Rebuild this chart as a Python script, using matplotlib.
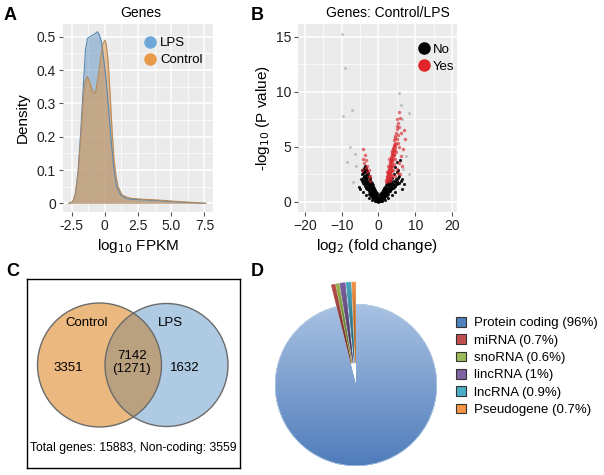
import numpy as np
import matplotlib.pyplot as plt
from matplotlib.patches import Circle, Patch
from matplotlib.lines import Line2D
from matplotlib.colors import LinearSegmentedColormap

plt.rcParams['font.family'] = ['Liberation Sans', 'DejaVu Sans']

W, H = 604, 475

# ---- A: density of log10 FPKM ----
lps_x = [-2.7, -2.4, -2.2, -2.0, -1.8, -1.6, -1.45, -1.3, -1.1, -0.9, -0.7, -0.55, -0.4,
         -0.25, -0.1, 0.1, 0.3, 0.5, 0.7, 0.9, 1.2, 1.6, 2.0, 3.0, 4.0, 5.0, 6.0, 7.0, 7.6]
lps_y = [0, 0.005, 0.03, 0.10, 0.22, 0.36, 0.46, 0.495, 0.50, 0.505, 0.51, 0.515, 0.505,
         0.485, 0.44, 0.37, 0.28, 0.18, 0.10, 0.05, 0.025, 0.015, 0.012, 0.01, 0.008, 0.005,
         0.003, 0.001, 0]
ctl_x = [-2.7, -2.4, -2.2, -2.0, -1.8, -1.6, -1.45, -1.3, -1.1, -0.9, -0.7, -0.5, -0.3,
         -0.15, 0.0, 0.1, 0.25, 0.4, 0.55, 0.7, 0.85, 1.0, 1.3, 1.7, 2.0, 3.0, 4.0, 5.0,
         6.0, 7.0, 7.6]
ctl_y = [0, 0.005, 0.03, 0.09, 0.20, 0.32, 0.37, 0.38, 0.36, 0.335, 0.33, 0.38, 0.44,
         0.475, 0.49, 0.48, 0.43, 0.33, 0.22, 0.13, 0.08, 0.05, 0.025, 0.018, 0.015, 0.012,
         0.01, 0.007, 0.004, 0.002, 0]

# ---- B: volcano (log2 fold change, -log10 p) ----
no_pts = [(0, 0.02), (0.2, 0.05), (-0.2, 0.05), (0.4, 0.1), (-0.4, 0.1), (0.1, 0.15), (-0.1, 0.15),
          (0.6, 0.2), (-0.6, 0.2), (0.3, 0.25), (-0.3, 0.25), (0.8, 0.3), (-0.8, 0.3), (1.0, 0.4),
          (-1.0, 0.4), (0.5, 0.4), (-0.5, 0.4), (1.3, 0.5), (-1.2, 0.5), (0.7, 0.55), (-0.6, 0.55),
          (1.6, 0.6), (-1.5, 0.6), (1.0, 0.7), (-0.9, 0.7), (1.9, 0.7), (-1.8, 0.7), (2.3, 0.8),
          (-2.1, 0.8), (1.3, 0.85), (-1.1, 0.85), (0.9, 0.95), (-0.8, 0.95), (2.6, 0.9), (-2.4, 0.9),
          (1.7, 1.0), (-1.4, 1.0), (3.0, 1.0), (-2.7, 1.0), (1.2, 1.1), (-1.0, 1.1), (2.1, 1.15),
          (-1.7, 1.15), (3.4, 1.15), (-3.0, 1.15), (1.5, 1.25), (-1.2, 1.25), (2.5, 1.3), (-2.0, 1.3),
          (3.9, 1.3), (-3.3, 1.3), (1.8, 1.4), (-1.4, 1.4), (2.9, 1.45), (-2.3, 1.45), (4.4, 1.45),
          (-3.6, 1.45), (2.1, 1.55), (-1.6, 1.55), (3.3, 1.6), (-2.6, 1.6), (4.9, 1.6), (-3.9, 1.6),
          (2.4, 1.7), (-1.8, 1.7), (3.7, 1.75), (-2.9, 1.75), (5.5, 1.75), (-4.2, 1.75), (2.7, 1.85),
          (-2.0, 1.85), (4.2, 1.9), (-3.2, 1.9), (6.1, 1.9), (-4.5, 1.9), (3.0, 2.0), (-2.2, 2.0),
          (-3.5, 2.05), (4.7, 2.05), (-4.8, 2.1), (-2.4, 2.2), (5.2, 2.2), (-3.7, 2.25), (-2.6, 2.4),
          (-4.0, 2.4), (5.7, 2.4), (-2.8, 2.6), (-4.2, 2.65), (-3.0, 2.85), (-4.4, 2.9), (-3.3, 3.1),
          (6.4, 2.1), (7.0, 1.6), (-5.3, 1.4), (-5.0, 1.2), (6.5, 1.2), (4.6, 0.9), (-4.1, 0.9),
          (3.6, 0.6), (-3.3, 0.6), (2.6, 0.35), (-2.5, 0.35), (1.8, 0.2), (-1.7, 0.2), (1.0, 0.1),
          (-1.0, 0.1), (0.0, 0.3), (0.3, 0.6), (-0.3, 0.6), (0.6, 0.85), (-0.5, 0.85),
          (0.15, 0.08), (-0.15, 0.08), (0.5, 0.15), (-0.5, 0.15), (0.8, 0.12), (-0.8, 0.12),
          (1.2, 0.25), (-1.2, 0.25), (1.5, 0.35), (-1.4, 0.35), (0.2, 0.35), (-0.15, 0.45),
          (0.9, 0.5), (-0.9, 0.5), (1.6, 0.45), (-1.7, 0.45), (2.0, 0.55), (-1.9, 0.55),
          (1.2, 0.65), (-1.2, 0.65), (2.2, 0.65), (-2.2, 0.62), (0.5, 0.7), (1.5, 0.8),
          (-1.5, 0.8), (2.7, 0.75), (-2.6, 0.75), (2.0, 0.9), (-1.9, 0.92), (1.1, 1.0),
          (-1.1, 1.0), (2.4, 1.05), (-2.2, 1.05), (3.2, 1.1), (1.5, 1.15), (-1.4, 1.2),
          (2.8, 1.2), (-2.5, 1.2), (3.6, 1.25), (2.0, 1.3), (-1.7, 1.35), (3.3, 1.35),
          (-2.8, 1.35), (4.1, 1.4), (2.5, 1.5), (-2.0, 1.5), (3.6, 1.5), (-3.2, 1.5), (4.6, 1.55),
          (2.8, 1.6), (-2.3, 1.65), (4.0, 1.65), (-3.4, 1.7), (5.1, 1.7), (3.2, 1.8), (-2.5, 1.8),
          (4.5, 1.8), (-3.7, 1.85), (3.5, 1.95), (-2.7, 1.95), (5.0, 1.95), (-3.9, 2.0),
          (-3.0, 2.15), (-4.2, 2.2), (-2.9, 2.3), (-3.4, 2.45), (-4.5, 2.5), (-3.1, 2.5),
          (-3.6, 2.7), (-3.9, 2.8), (-3.5, 2.95), (-4.0, 3.1), (-3.7, 3.3), (3.8, 2.2), (4.2, 2.5),
          (4.9, 2.7), (5.4, 2.9), (4.4, 3.2), (5.0, 3.6), (5.8, 3.8)]
no_far_pts = [(-7.0, 1.8), (8.3, 2.5), (-6.0, 3.3), (6.8, 3.0),
              (-9.9, 15.3), (-9.0, 12.2), (-7.2, 8.4), (-9.6, 7.8), (5.5, 9.9), (8.2, 8.1),
              (6.4, 7.5), (-7.8, 5.0), (-6.5, 4.4), (-8.5, 3.6), (7.5, 4.2), (6.0, 8.8)]
yes_pts = [(2.0, 1.85), (2.5, 1.9), (3.0, 1.95), (2.2, 2.1), (2.7, 2.15), (3.3, 2.2), (2.4, 2.35),
           (2.9, 2.4), (3.6, 2.45), (2.5, 2.6), (3.1, 2.65), (2.7, 2.85), (3.3, 2.9), (3.9, 2.95),
           (2.8, 3.1), (3.4, 3.15), (3.0, 3.35), (3.6, 3.4), (4.2, 3.45), (3.1, 3.6), (3.7, 3.65),
           (3.3, 3.85), (3.9, 3.9), (4.5, 3.95), (3.4, 4.1), (4.0, 4.15), (3.6, 4.35), (4.2, 4.4),
           (4.8, 4.5), (3.8, 4.6), (4.4, 4.7), (3.9, 4.9), (4.6, 5.0), (4.1, 5.2), (4.8, 5.3),
           (5.3, 5.4), (4.3, 5.6), (4.9, 5.7), (4.5, 6.0), (5.2, 6.1), (5.0, 6.6), (5.6, 6.8),
           (5.3, 7.2), (5.8, 7.6), (6.2, 6.3), (5.6, 5.0), (6.0, 4.2), (5.5, 3.5), (6.3, 3.3),
           (4.9, 3.0), (5.2, 2.6), (4.4, 2.4), (5.8, 2.5), (6.6, 4.8), (7.1, 5.7), (6.9, 6.5),
           (2.3, 2.7), (2.6, 3.3), (2.9, 3.9),
           (2.1, 2.0), (2.6, 2.05), (3.2, 2.1), (2.3, 2.25), (2.8, 2.3), (3.4, 2.35), (2.6, 2.5),
           (3.0, 2.55), (2.8, 2.75), (3.2, 2.8), (3.6, 2.85), (2.9, 3.0), (3.5, 3.05), (3.1, 3.25),
           (3.8, 3.3), (3.2, 3.5), (3.5, 3.7), (3.8, 3.8), (3.4, 4.0), (3.8, 4.25), (4.3, 4.3),
           (3.7, 4.5), (4.1, 4.6), (4.0, 4.8), (4.3, 5.1), (4.5, 5.4), (4.4, 5.8), (4.7, 6.3),
           (4.9, 6.9), (5.1, 7.5), (5.5, 8.2),
           (-2.2, 1.9), (-2.7, 2.3), (-3.1, 2.7), (-3.5, 3.1), (-3.9, 3.5), (-3.0, 3.3), (-2.5, 2.9),
           (-4.3, 3.9), (-3.6, 4.3), (-4.1, 4.8), (-3.3, 3.8), (-2.4, 2.4), (-4.6, 2.9)]
no_x = [p[0] for p in no_pts]
no_y = [p[1] for p in no_pts]
no_far_x = [p[0] for p in no_far_pts]
no_far_y = [p[1] for p in no_far_pts]
yes_x = [p[0] for p in yes_pts]
yes_y = [p[1] for p in yes_pts]

# ---- C: venn counts ----
only_ctl = 3351
both = 7142
both_nc = 1271
only_lps = 1632
total_genes = 15883
non_coding = 3559

# ---- D: gene types ----
pie_names = ['Protein coding', 'miRNA', 'snoRNA', 'lincRNA', 'lncRNA', 'Pseudogene']
pie_pct = [96, 0.7, 0.6, 1, 0.9, 0.7]
pie_colors = ['#4F81BD', '#C0504D', '#9BBB59', '#8064A2', '#4BACC6', '#F79646']


def px_axes(x0, y0, x1, y1):
    return fig.add_axes([x0 / W, 1 - y1 / H, (x1 - x0) / W, (y1 - y0) / H])


def gg_style(ax):
    ax.set_facecolor('#EBEBEB')
    for s in ax.spines.values():
        s.set_visible(False)
    ax.grid(True, which='major', color='white', lw=1.1)
    ax.grid(True, which='minor', color='white', lw=0.5)
    ax.set_axisbelow(True)
    ax.tick_params(which='major', length=3, width=0.8, color='#555', labelsize=10,
                   labelcolor='#222', pad=2)
    ax.tick_params(which='minor', length=0)


fig = plt.figure(figsize=(W / 100, H / 100), dpi=100)

# A
axA = px_axes(63, 24, 213, 212)
gg_style(axA)
axA.fill_between(lps_x, lps_y, color='#6a9cc4', alpha=0.55, lw=0)
axA.plot(lps_x, lps_y, color='#5a88b0', lw=0.8)
axA.fill_between(ctl_x, ctl_y, color='#d9924a', alpha=0.55, lw=0)
axA.plot(ctl_x, ctl_y, color='#b88a5a', lw=0.8)
axA.set_xlim(-3.14, 8.14)
axA.set_ylim(-0.026, 0.538)
axA.set_xticks([-2.5, 0, 2.5, 5, 7.5], ['-2.5', '0', '2.5', '5.0', '7.5'])
axA.set_xticks([-1.25, 1.25, 3.75, 6.25], minor=True)
axA.set_yticks([0, 0.1, 0.2, 0.3, 0.4, 0.5], ['0', '0.1', '0.2', '0.3', '0.4', '0.5'])
axA.set_yticks([0.05, 0.15, 0.25, 0.35, 0.45], minor=True)
axA.set_xlabel(r'log$_{10}$ FPKM', fontsize=11, labelpad=3)
axA.set_ylabel('Density', fontsize=11, labelpad=5)
hA = [Line2D([], [], ls='', marker='o', ms=8, color='#6fa8d8', label='LPS'),
      Line2D([], [], ls='', marker='o', ms=8, color='#e8994a', label='Control')]
axA.legend(handles=hA, loc='upper left', bbox_to_anchor=(0.53, 0.93), frameon=False,
           fontsize=9.5, handlelength=1.1, handletextpad=0.25, labelspacing=0.35,
           borderpad=0, borderaxespad=0)

# B
axB = px_axes(298, 24, 457, 212)
gg_style(axB)
axB.scatter(no_far_x, no_far_y, s=4, color='#888888', alpha=0.5, lw=0)
axB.scatter(no_x, no_y, s=5, color='black', alpha=0.9, lw=0)
axB.scatter(yes_x, yes_y, s=6, color='#d8262c', alpha=0.65, lw=0)
axB.set_xlim(-21.9, 21.36)
axB.set_ylim(-0.91, 16.18)
axB.set_xticks([-20, -10, 0, 10, 20])
axB.set_xticks([-15, -5, 5, 15], minor=True)
axB.set_yticks([0, 5, 10, 15])
axB.set_yticks([2.5, 7.5, 12.5], minor=True)
axB.set_xlabel(r'log$_2$ (fold change)', fontsize=11, labelpad=3)
axB.set_ylabel(r'-log$_{10}$ (P value)', fontsize=11, labelpad=3)
hB = [Line2D([], [], ls='', marker='o', ms=8, color='black', label='No'),
      Line2D([], [], ls='', marker='o', ms=8, color='#e0242a', label='Yes')]
axB.legend(handles=hB, loc='upper left', bbox_to_anchor=(0.746, 0.895), frameon=False,
           fontsize=9.5, handlelength=1.1, handletextpad=0.15, labelspacing=0.35,
           borderpad=0, borderaxespad=0)

fig.text(141 / W, 1 - 13 / H, 'Genes', ha='center', va='center', fontsize=10)
fig.text(388 / W, 1 - 13 / H, 'Genes: Control/LPS', ha='center', va='center', fontsize=10)

# C
axC = px_axes(27, 279, 240, 468)
axC.set_xlim(0, 213)
axC.set_ylim(189, 0)
axC.set_xticks([])
axC.set_yticks([])
for s in axC.spines.values():
    s.set_linewidth(1.0)
left_c = Circle((72.5, 86), 62, facecolor='#ebb97f', edgecolor='none')
right_c = Circle((139.5, 86), 61.5, facecolor='#afcbe3', edgecolor='none')
axC.add_patch(left_c)
axC.add_patch(right_c)
lens = Circle((139.5, 86), 61.5, facecolor='#b9a07f', edgecolor='none')
axC.add_patch(lens)
lens.set_clip_path(left_c)
axC.add_patch(Circle((72.5, 86), 62, facecolor='none', edgecolor='#6b6b6b', lw=1.0))
axC.add_patch(Circle((139.5, 86), 61.5, facecolor='none', edgecolor='#6b6b6b', lw=1.0))
axC.text(60, 44, 'Control', ha='center', va='center', fontsize=9.5)
axC.text(143, 44, 'LPS', ha='center', va='center', fontsize=9.5)
axC.text(41, 89, str(only_ctl), ha='center', va='center', fontsize=9.5)
axC.text(104.7, 83.5, f'{both}\n({both_nc})', ha='center', va='center', fontsize=9.5,
         linespacing=1.15)
axC.text(158, 89, str(only_lps), ha='center', va='center', fontsize=9.5)
axC.text(106.5, 169.5, f'Total genes: {total_genes}, Non-coding: {non_coding}',
         ha='center', va='center', fontsize=8.8)

# D
axD = px_axes(251, 275, 461, 475)
explode = [0] + [0.27] * (len(pie_pct) - 1)
wedges, _ = axD.pie(pie_pct, colors=pie_colors, startangle=90, counterclock=False,
                    explode=explode, wedgeprops=dict(linewidth=0.6))
wedges[0].set_edgecolor('none')
for w, c in zip(wedges[1:], pie_colors[1:]):
    w.set_edgecolor(c)
grad = np.linspace(0, 1, 256).reshape(-1, 1)
cmap = LinearSegmentedColormap.from_list('pc', ['#a9c2e2', '#7d9fcf', '#4f7dbb'])
im = axD.imshow(grad, extent=(-1, 1, -1, 1), origin='upper', cmap=cmap, aspect='auto',
                zorder=wedges[0].get_zorder() + 0.1)
im.set_clip_path(wedges[0])
axD.add_patch(Circle((0, 0), 1.0, facecolor='none', edgecolor='#c9d8ec', lw=0.8, zorder=5,
                     clip_path=wedges[0]))
# darker shading toward the tips of the small exploded slices
shade = np.zeros((256, 1, 4))
shade[:, 0, 3] = np.linspace(0.0, 0.6, 256)
for w in wedges[1:]:
    sh = axD.imshow(shade, extent=(-0.4, 0.2, 0.25, 1.3), origin='upper', aspect='auto',
                    zorder=w.get_zorder() + 0.1)
    sh.set_clip_path(w)
axD.set_xlim(-105 / 81, 105 / 81)
axD.set_ylim(-90 / 81, 110 / 81)
axD.axis('off')

hD = [Patch(facecolor=c, edgecolor='#333333', lw=0.8) for c in pie_colors]
lD = [f'{n} ({p:g}%)' for n, p in zip(pie_names, pie_pct)]
fig.legend(handles=hD, labels=lD, loc='upper left', bbox_to_anchor=(456 / W, 1 - 317 / H),
           frameon=False, fontsize=9.5, handlelength=0.75, handleheight=0.75,
           handletextpad=0.6, labelspacing=0.37, borderpad=0, borderaxespad=0)

# panel letters
for lab, x, y in [('A', 10, 15), ('B', 257, 15), ('C', 13, 272), ('D', 257, 272)]:
    fig.text(x / W, 1 - y / H, lab, ha='center', va='center', fontsize=13, fontweight='bold')

fig.savefig('out.png', dpi=100)
